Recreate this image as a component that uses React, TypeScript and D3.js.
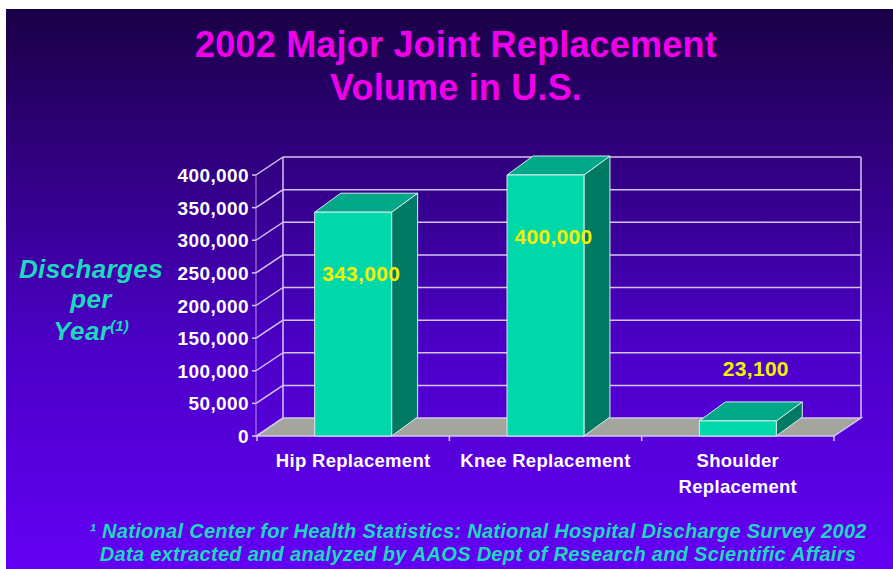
import React from "react";
import * as d3 from "d3";

// chart data
const categories = ["Hip Replacement", "Knee Replacement", "Shoulder Replacement"];
const categoryLines = [["Hip Replacement"], ["Knee Replacement"], ["Shoulder", "Replacement"]];
const discharges = [343000, 400000, 23100];
const yTicks = [0, 50000, 100000, 150000, 200000, 250000, 300000, 350000, 400000];

const titleLines = ["2002 Major Joint Replacement", "Volume in U.S."];
const footnoteLines = [
  "\u00B9 National Center for Health Statistics: National Hospital Discharge Survey 2002",
  "Data extracted and analyzed by AAOS Dept of Research and Scientific Affairs",
];

const W = 893;
const H = 569;
const FONT = "'Liberation Sans', Arial, sans-serif";

// 3d offsets
const wallDx = 27;
const wallDy = -18;
const barDx = 26;
const barDy = -19;

const GRID = "#d4c4f4";

export default function App() {
  const x = d3
    .scaleBand<string>()
    .domain(categories)
    .range([257, 834])
    .paddingInner(0.6)
    .paddingOuter(0.3);

  const y = d3.scaleLinear().domain([0, 400000]).range([436, 175]);
  const fmt = d3.format(",");

  const x0 = 256;
  const xEnd = 834;
  const yBase = y(0);
  const yTop = y(400000);
  const step = x.step();
  const catTicks = d3.range(categories.length + 1).map((i) => 257 + i * step);

  const pts = (p: [number, number][]) => p.map((d) => d.join(",")).join(" ");

  return (
    <svg
      width={W}
      height={H}
      style={{ position: "absolute", left: 0, top: 0, display: "block" }}
    >
      <defs>
        <linearGradient id="bg" x1="0" y1="0" x2="0" y2="1">
          <stop offset="0%" stopColor="#1a0046" />
          <stop offset="30%" stopColor="#330086" />
          <stop offset="60%" stopColor="#4b00c6" />
          <stop offset="100%" stopColor="#6300f4" />
        </linearGradient>
      </defs>
      <rect width={W} height={H} fill="#ffffff" />
      <rect x={6} y={9} width={W - 6} height={H - 9} fill="url(#bg)" />

      {/* title */}
      <g fontFamily={FONT} fontWeight="bold" fontSize={36} fill="#f000ea" textAnchor="middle">
        {titleLines.map((t, i) => (
          <text key={t} x={456} y={57 + i * 43} letterSpacing={0.2}>
            {t}
          </text>
        ))}
      </g>

      {/* floor */}
      <polygon
        points={pts([
          [x0 + 1, yBase],
          [xEnd, yBase],
          [xEnd + wallDx, yBase + wallDy],
          [x0 + wallDx, yBase + wallDy],
        ])}
        fill="#a5a5a0"
        stroke={GRID}
        strokeWidth={1.5}
      />

      {/* back wall grid + side wall diagonals */}
      <g stroke={GRID} strokeWidth={1.5} fill="none">
        {yTicks.map((v) => (
          <g key={v}>
            {v > 0 && (
              <line x1={x0 + wallDx} x2={xEnd + wallDx} y1={y(v) + wallDy} y2={y(v) + wallDy} />
            )}
            <line x1={x0} y1={y(v)} x2={x0 + wallDx} y2={y(v) + wallDy} />
            <line x1={x0 - 4} x2={x0} y1={y(v)} y2={y(v)} />
          </g>
        ))}
        <line x1={x0 + wallDx} x2={x0 + wallDx} y1={yBase + wallDy} y2={yTop + wallDy} />
        <line x1={xEnd + wallDx} x2={xEnd + wallDx} y1={yBase + wallDy} y2={yTop + wallDy} />
        <line x1={x0} x2={x0} y1={yBase} y2={yTop} strokeOpacity={0.5} />
        {catTicks.map((cx) => (
          <line key={cx} x1={cx} x2={cx} y1={yBase} y2={yBase + 5} />
        ))}
      </g>

      {/* bars */}
      <g stroke="#d8ecf0" strokeWidth={1} strokeLinejoin="round">
        {categories.map((c, i) => {
          const bx = x(c)!;
          const bw = x.bandwidth();
          const by = y(discharges[i]);
          return (
            <g key={c}>
              <polygon
                points={pts([
                  [bx + bw, by],
                  [bx + bw + barDx, by + barDy],
                  [bx + bw + barDx, yBase + barDy],
                  [bx + bw, yBase],
                ])}
                fill="#007a62"
              />
              <polygon
                points={pts([
                  [bx, by],
                  [bx + bw, by],
                  [bx + bw + barDx, by + barDy],
                  [bx + barDx, by + barDy],
                ])}
                fill="#00a888"
              />
              <rect x={bx} y={by} width={bw} height={yBase - by} fill="#00d8aa" />
            </g>
          );
        })}
      </g>

      {/* value labels */}
      <g fontFamily={FONT} fontWeight="bold" fontSize={21} fill="#f4f000" textAnchor="middle">
        {categories.map((c, i) => {
          const by = y(discharges[i]);
          const inside = yBase - by > 100;
          const cx = x(c)! + x.bandwidth() / 2 + (inside ? 8 : 18);
          return (
            <text key={c} x={cx} y={inside ? by + 69 : by - 45} letterSpacing={0.3}>
              {fmt(discharges[i])}
            </text>
          );
        })}
      </g>

      {/* y tick labels */}
      <g fontFamily={FONT} fontWeight="bold" fontSize={19} fill="#ffffff" textAnchor="end">
        {yTicks.map((v) => (
          <text key={v} x={249} y={y(v) + 7} letterSpacing={0.4}>
            {fmt(v)}
          </text>
        ))}
      </g>

      {/* category labels */}
      <g fontFamily={FONT} fontWeight="bold" fontSize={18.5} fill="#ffffff" textAnchor="middle">
        {categories.map((c, i) =>
          categoryLines[i].map((line, j) => (
            <text
              key={c + j}
              x={x(c)! + x.bandwidth() / 2}
              y={467 + j * 26}
              letterSpacing={0.3}
            >
              {line}
            </text>
          ))
        )}
      </g>

      {/* y axis title */}
      <g
        fontFamily={FONT}
        fontWeight="bold"
        fontStyle="italic"
        fontSize={26}
        fill="#1ed8c0"
        textAnchor="middle"
      >
        <text x={91} y={278} letterSpacing={0.4}>Discharges</text>
        <text x={91} y={308} letterSpacing={0.4}>per</text>
        <text x={91} y={340} letterSpacing={0.4}>
          Year
          <tspan fontSize={15} dy={-9} letterSpacing={0}>(1)</tspan>
        </text>
      </g>

      {/* footnote */}
      <g
        fontFamily={FONT}
        fontWeight="bold"
        fontStyle="italic"
        fontSize={20}
        fill="#1ed8c0"
        textAnchor="middle"
      >
        {footnoteLines.map((t, i) => (
          <text key={t} x={478} y={538 + i * 23} letterSpacing={0.3}>
            {t}
          </text>
        ))}
      </g>
    </svg>
  );
}
